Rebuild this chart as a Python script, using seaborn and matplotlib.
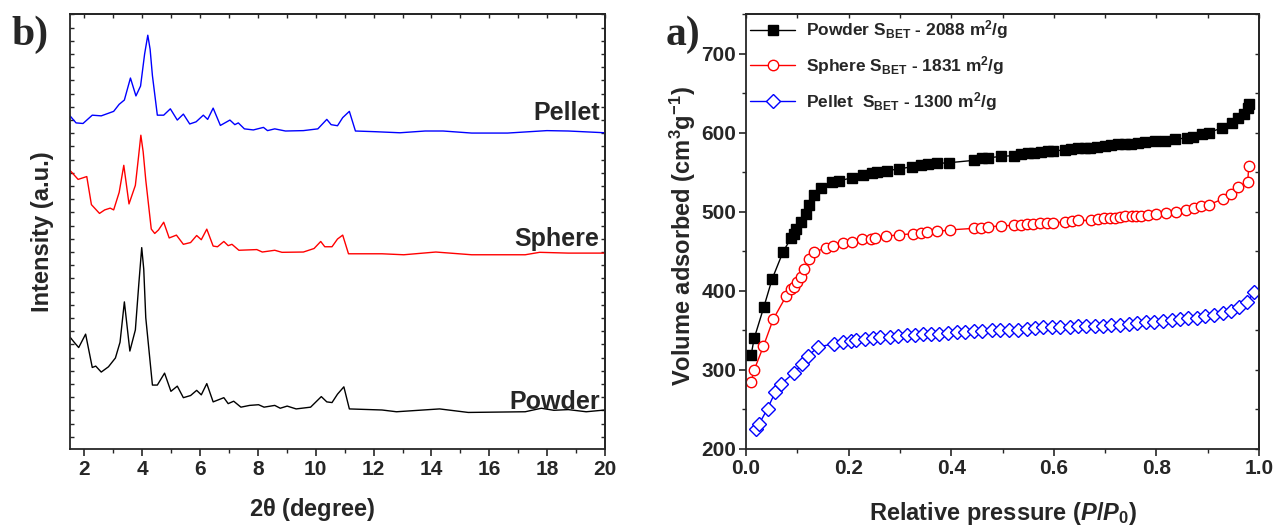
import numpy as np
import pandas as pd
import matplotlib
matplotlib.use("Agg")
import matplotlib.pyplot as plt
import seaborn as sns
from matplotlib.ticker import MultipleLocator, NullFormatter
from matplotlib import font_manager

# ---------------- data: XRD patterns (b) ----------------
pellet_2theta = [1.5, 1.71, 1.95, 2.27, 2.58, 3.01, 3.20, 3.38, 3.59, 3.78, 3.94, 4.08, 4.19, 4.27,
                 4.35, 4.52, 4.74, 4.97, 5.21, 5.42, 5.64, 5.86, 6.11, 6.26, 6.45, 6.70, 7.03, 7.20,
                 7.32, 7.53, 7.84, 8.19, 8.33, 8.58, 8.95, 9.57, 10.07, 10.38, 10.53, 10.75, 10.93,
                 11.16, 11.37, 12.05, 12.91, 13.78, 14.40, 15.39, 16.63, 17.99, 18.73, 20.0]
pellet_int = [341.8, 334.6, 334.0, 342.5, 341.8, 346.4, 353.6, 358.0, 380.5, 362.2, 372.3, 405.0,
              424.3, 410.0, 383.0, 342.5, 342.5, 349.0, 337.5, 343.6, 333.5, 335.7, 342.5, 338.2,
              349.7, 332.0, 337.5, 332.8, 334.6, 328.5, 327.4, 330.0, 326.7, 328.5, 326.3, 326.7,
              328.5, 338.2, 332.8, 331.7, 340.0, 346.4, 326.3, 325.6, 324.5, 326.3, 326.3, 324.2,
              324.2, 326.7, 326.3, 324.5]

sphere_2theta = [1.5, 1.78, 2.08, 2.24, 2.52, 2.70, 2.89, 3.01, 3.20, 3.36, 3.54, 3.76, 3.87, 3.95,
                 4.03, 4.12, 4.31, 4.43, 4.56, 4.74, 4.93, 5.18, 5.42, 5.67, 5.88, 6.04, 6.23, 6.45,
                 6.60, 6.82, 6.97, 7.10, 7.34, 7.96, 8.15, 8.58, 8.83, 9.57, 9.94, 10.17, 10.31,
                 10.56, 10.75, 10.93, 11.13, 12.29, 13.04, 14.15, 15.39, 17.24, 17.74, 18.73, 20.0]
sphere_int = [286.0, 276.8, 279.7, 251.0, 242.0, 245.6, 247.4, 245.6, 263.5, 291.2, 251.7, 270.7,
              300.0, 322.0, 305.0, 276.1, 226.0, 221.5, 225.1, 233.0, 216.9, 219.8, 210.4, 212.2,
              219.4, 215.1, 225.9, 208.6, 207.9, 213.3, 209.0, 210.4, 204.3, 205.0, 202.5, 204.3,
              202.2, 202.5, 206.1, 213.3, 207.9, 207.9, 215.8, 219.8, 200.7, 200.7, 199.7, 202.5,
              199.7, 199.7, 202.2, 201.4, 201.4]

powder_2theta = [1.5, 1.65, 1.80, 2.04, 2.27, 2.39, 2.58, 2.83, 3.07, 3.23, 3.38, 3.57, 3.76, 3.88,
                 3.98, 4.05, 4.12, 4.35, 4.52, 4.77, 4.99, 5.21, 5.42, 5.67, 5.88, 6.04, 6.23, 6.45,
                 6.82, 6.97, 7.16, 7.41, 7.71, 8.02, 8.21, 8.58, 8.77, 9.01, 9.32, 9.82, 10.19,
                 10.38, 10.56, 10.75, 10.97, 11.16, 12.29, 12.79, 14.28, 15.27, 17.24, 17.80, 18.23,
                 18.73, 19.35, 20.0]
powder_int = [115.5, 110.0, 104.8, 118.5, 84.4, 85.8, 79.7, 85.1, 94.1, 110.2, 151.5, 101.2, 122.8,
              170.0, 207.0, 185.0, 135.3, 66.4, 66.4, 78.6, 60.0, 65.3, 53.5, 55.7, 61.0, 56.4,
              67.9, 49.2, 53.5, 47.4, 49.9, 43.8, 45.6, 46.3, 43.8, 45.6, 42.7, 44.9, 42.0, 43.8,
              54.6, 49.2, 48.5, 57.1, 64.6, 42.0, 40.9, 39.1, 42.0, 38.4, 39.1, 42.7, 40.6, 41.3,
              39.1, 40.9]

xrd_labels = ["Pellet", "Sphere", "Powder"]

# ---------------- data: N2 isotherms (a) ----------------
powder_p = [0.010, 0.016, 0.035, 0.051, 0.072, 0.088, 0.093, 0.098, 0.108, 0.117, 0.123, 0.132,
            0.147, 0.168, 0.181, 0.207, 0.228, 0.245, 0.256, 0.275, 0.298, 0.324, 0.341, 0.354,
            0.373, 0.396, 0.445, 0.461, 0.471, 0.497, 0.523, 0.536, 0.549, 0.562, 0.575, 0.588,
            0.598, 0.621, 0.634, 0.647, 0.660, 0.670, 0.685, 0.699, 0.712, 0.725, 0.738, 0.751,
            0.764, 0.778, 0.797, 0.817, 0.836, 0.859, 0.872, 0.888, 0.902, 0.928, 0.947, 0.960,
            0.970, 0.978, 0.981]
powder_v = [319, 340, 380, 415, 449, 467, 472, 478, 487, 497, 508, 521,
            530, 537, 539, 543, 547, 549, 550, 552, 554, 557, 559, 560,
            561, 562, 565, 568, 568, 570, 571, 572.5, 574, 574.5, 576, 576.5,
            577, 578, 579, 580, 580.5, 581, 582, 583, 584, 585, 585.5, 586,
            587, 588, 589, 590, 592, 593, 595, 598, 600, 606, 612, 618,
            623, 631, 636]

sphere_p = [0.010, 0.016, 0.034, 0.053, 0.078, 0.088, 0.093, 0.099, 0.108, 0.114, 0.122, 0.133,
            0.155, 0.170, 0.190, 0.207, 0.226, 0.243, 0.252, 0.273, 0.299, 0.325, 0.341, 0.352,
            0.372, 0.397, 0.445, 0.459, 0.472, 0.497, 0.523, 0.536, 0.548, 0.560, 0.573, 0.586,
            0.598, 0.622, 0.635, 0.648, 0.672, 0.686, 0.698, 0.709, 0.719, 0.729, 0.738, 0.753,
            0.761, 0.770, 0.784, 0.799, 0.818, 0.838, 0.857, 0.873, 0.887, 0.903, 0.929, 0.946,
            0.960, 0.978, 0.980]
sphere_v = [285, 300, 330, 364, 393, 402, 405, 411, 418, 427, 440, 449,
            454, 457, 460, 462, 465, 466, 467, 469, 471, 472, 473, 474,
            475, 477, 479, 480, 481, 482, 483, 483, 484, 485, 486, 486,
            486, 487, 488, 489, 489, 491, 492, 492, 492, 493, 494, 494,
            495, 495, 496, 497, 499, 500, 502, 505, 507, 509, 516, 522,
            531, 537, 558]

pellet_p = [0.020, 0.025, 0.042, 0.057, 0.068, 0.093, 0.109, 0.121, 0.141, 0.171, 0.189, 0.204,
            0.215, 0.231, 0.247, 0.262, 0.280, 0.296, 0.313, 0.329, 0.345, 0.361, 0.377, 0.394,
            0.411, 0.427, 0.444, 0.461, 0.479, 0.495, 0.512, 0.530, 0.547, 0.564, 0.579, 0.596,
            0.613, 0.631, 0.647, 0.663, 0.680, 0.696, 0.712, 0.730, 0.746, 0.763, 0.779, 0.796,
            0.813, 0.830, 0.846, 0.862, 0.879, 0.895, 0.913, 0.929, 0.946, 0.961, 0.977, 0.991]
pellet_v = [225, 231, 251, 272, 282, 296, 307, 318, 329, 333, 335, 337,
            338, 339, 340, 341, 342, 343, 344, 344, 345, 346, 346, 347,
            348, 348, 349, 349, 350, 350, 351, 351, 352, 353, 354, 354,
            354, 354, 355, 356, 356, 356, 357, 357, 358, 359, 360, 361,
            362, 363, 364, 365, 366, 368, 370, 372, 375, 380, 386, 399]

iso_labels = [r"Powder S$_{BET}$ - 2088 m$^{2}$/g",
              r"Sphere S$_{BET}$ - 1831 m$^{2}$/g",
              r"Pellet  S$_{BET}$ - 1300 m$^{2}$/g"]

# ---------------- style ----------------
sns.set_theme(style="white")
names = {f.name for f in font_manager.fontManager.ttflist}
FAM = "Liberation Sans Narrow" if "Liberation Sans Narrow" in names else "Liberation Sans"
SERIF = "Liberation Serif" if "Liberation Serif" in names else "DejaVu Serif"
plt.rcParams["font.family"] = [FAM, "DejaVu Sans"]
plt.rcParams["font.weight"] = "bold"
plt.rcParams["mathtext.fontset"] = "custom"
plt.rcParams["mathtext.rm"] = f"{FAM}:bold"
plt.rcParams["mathtext.bf"] = f"{FAM}:bold"
plt.rcParams["mathtext.it"] = f"{FAM}:italic:bold"
plt.rcParams["mathtext.default"] = "rm"
plt.rcParams["axes.linewidth"] = 1.3

fig = plt.figure(figsize=(12.73, 5.28), dpi=100)
W, H = 1273, 528
def rect(x0, x1, y0, y1):
    return [x0 / W, 1 - y1 / H, (x1 - x0) / W, (y1 - y0) / H]

axb = fig.add_axes(rect(70, 605, 14, 449))
axa = fig.add_axes(rect(746, 1259, 14, 449))

TICK_FS = 15
LAB_FS = 17

# ---------------- panel b ----------------
xrd = [(pellet_2theta, pellet_int, "#0000ff"),
       (sphere_2theta, sphere_int, "#ff0000"),
       (powder_2theta, powder_int, "#000000")]
for xs, ys, c in xrd:
    sns.lineplot(x=xs, y=ys, ax=axb, color=c, linewidth=1.0, estimator=None, sort=False)

axb.set_xlim(1.5, 20)
axb.set_ylim(1, 446)
axb.set_xticks([2, 4, 6, 8, 10, 12, 14, 16, 18, 20])
axb.xaxis.set_minor_locator(MultipleLocator(1))
axb.yaxis.set_major_locator(MultipleLocator(13.5))
axb.yaxis.set_major_formatter(NullFormatter())
axb.tick_params(axis="x", which="major", direction="out", length=5, width=1.2,
                labelsize=TICK_FS, bottom=True, pad=3)
axb.tick_params(axis="x", which="minor", direction="out", length=3, width=1.0, bottom=True)
axb.tick_params(axis="y", which="major", direction="in", length=3, width=1.0, left=True)
for lbl in axb.get_xticklabels():
    lbl.set_fontweight("bold")
secx = axb.secondary_xaxis("top")
secx.xaxis.set_major_locator(MultipleLocator(1))
secx.xaxis.set_major_formatter(NullFormatter())
secx.tick_params(direction="in", length=3, width=1.0)
secy = axb.secondary_yaxis("right")
secy.yaxis.set_major_locator(MultipleLocator(13.5))
secy.yaxis.set_major_formatter(NullFormatter())
secy.tick_params(direction="in", length=3, width=1.0)

axb.set_xlabel(r"2$\theta$ (degree)", fontsize=LAB_FS, fontweight="bold")
axb.xaxis.set_label_coords(0.452, -0.108)
axb.set_ylabel("Intensity (a.u.)", fontsize=LAB_FS, fontweight="bold")
axb.yaxis.set_label_coords(-0.030, 0.5)

for txt, ypos in zip(xrd_labels, [0.772, 0.482, 0.108]):
    axb.text(0.99, ypos, txt, transform=axb.transAxes, ha="right", va="center",
             fontsize=18, fontweight="bold")

# ---------------- panel a ----------------
iso = [(powder_p, powder_v, "black", "s", "black", 6.5),
       (sphere_p, sphere_v, "red", "o", "white", 7.5),
       (pellet_p, pellet_v, "blue", "D", "white", 7.0)]
for (ps, vs, c, m, fc, ms), lab in zip(iso, iso_labels):
    sns.lineplot(x=ps, y=vs, ax=axa, color=c, marker=m, markersize=ms,
                 markerfacecolor=fc, markeredgecolor=c, markeredgewidth=1.0,
                 linewidth=1.0, estimator=None, sort=False, label=lab)

axa.set_xlim(0, 1.0)
axa.set_ylim(200, 750)
axa.set_xticks([0.0, 0.2, 0.4, 0.6, 0.8, 1.0])
axa.set_xticklabels(["0.0", "0.2", "0.4", "0.6", "0.8", "1.0"])
axa.xaxis.set_minor_locator(MultipleLocator(0.1))
axa.set_yticks([200, 300, 400, 500, 600, 700])
axa.yaxis.set_minor_locator(MultipleLocator(50))
axa.tick_params(axis="both", which="major", direction="out", length=5, width=1.2,
                labelsize=TICK_FS, bottom=True, left=True, pad=2)
axa.tick_params(axis="both", which="minor", direction="out", length=3, width=1.0,
                bottom=True, left=True)
for lbl in axa.get_xticklabels() + axa.get_yticklabels():
    lbl.set_fontweight("bold")
sx = axa.secondary_xaxis("top")
sx.xaxis.set_major_locator(MultipleLocator(0.1))
sx.xaxis.set_major_formatter(NullFormatter())
sx.tick_params(direction="in", length=3, width=1.0)
sy = axa.secondary_yaxis("right")
sy.yaxis.set_major_locator(MultipleLocator(50))
sy.yaxis.set_major_formatter(NullFormatter())
sy.tick_params(direction="in", length=3, width=1.0)

axa.set_xlabel(r"Relative pressure ($\mathit{P/P_{0}}$)", fontsize=LAB_FS, fontweight="bold")
axa.xaxis.set_label_coords(0.501, -0.117)
axa.set_ylabel(r"Volume adsorbed (cm$^{3}$g$^{-1}$)", fontsize=LAB_FS, fontweight="bold")
axa.yaxis.set_label_coords(-0.094, 0.49)

leg = axa.legend(loc="upper left", frameon=False, fontsize=12.5, handlelength=2.6,
                 handletextpad=0.6, labelspacing=0.75, borderaxespad=0.0, borderpad=0.25,
                 bbox_to_anchor=(0.0, 1.0))
for t in leg.get_texts():
    t.set_fontweight("bold")

fig.text(11 / W, 1 - 35 / H, "b)", fontsize=30, fontweight="bold", family=SERIF,
         ha="left", va="center")
fig.text(666 / W, 1 - 35 / H, "a)", fontsize=30, fontweight="bold", family=SERIF,
         ha="left", va="center")

fig.savefig("out.png", dpi=100)
